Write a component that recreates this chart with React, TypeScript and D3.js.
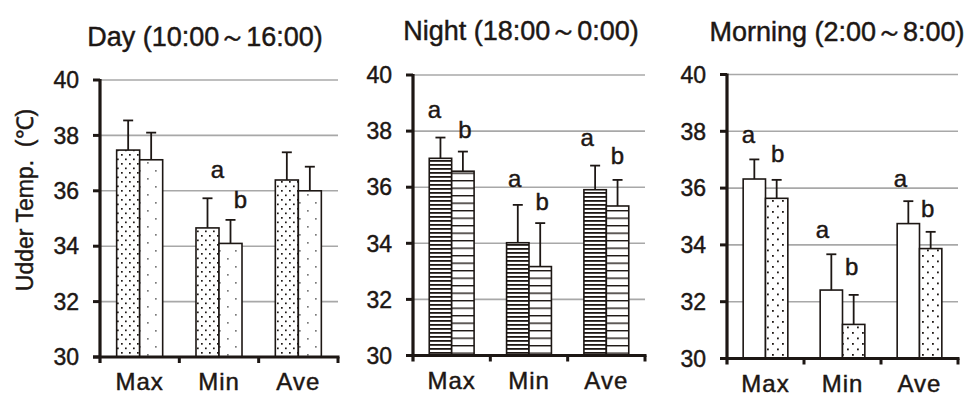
import React from 'react';
import * as d3 from 'd3';

// ---------- data ----------
const categories = ['Max', 'Min', 'Ave'];
const panelTitles = ['Day (10:00～16:00)', 'Night (18:00～0:00)', 'Morning (2:00～8:00)'];
const yTicks = [30, 32, 34, 36, 38, 40];
const yAxisTitle = 'Udder Temp.\u00a0\u00a0(℃)';

const dayMeansA = [37.47, 34.66, 36.39];
const daySdA = [1.07, 1.07, 1.0];
const dayMeansB = [37.12, 34.1, 36.0];
const daySdB = [0.98, 0.85, 0.87];

const nightMeansA = [37.03, 34.02, 35.91];
const nightSdA = [0.74, 1.35, 0.86];
const nightMeansB = [36.57, 33.17, 35.33];
const nightSdB = [0.7, 1.55, 0.93];

const morningMeansA = [36.32, 32.41, 34.75];
const morningSdA = [0.69, 1.26, 0.79];
const morningMeansB = [35.64, 31.2, 33.87];
const morningSdB = [0.65, 1.04, 0.59];

// significance letters: [category index, series index, letter, baseline value (°C)]
const dayLetters: [number, number, string, number][] = [
  [1, 0, 'a', 36.45],
  [1, 1, 'b', 35.39],
];
const nightLetters: [number, number, string, number][] = [
  [0, 0, 'a', 38.46],
  [0, 1, 'b', 37.75],
  [1, 0, 'a', 36.02],
  [1, 1, 'b', 35.19],
  [2, 0, 'a', 37.47],
  [2, 1, 'b', 36.82],
];
const morningLetters: [number, number, string, number][] = [
  [0, 0, 'a', 37.58],
  [0, 1, 'b', 36.93],
  [1, 0, 'a', 34.23],
  [1, 1, 'b', 32.94],
  [2, 0, 'a', 36.05],
  [2, 1, 'b', 34.99],
];

// ---------- layout ----------
const INK = '#1d1714';
const GRID = '#a8a8a8';
const FONT = '"Liberation Sans", Arial, sans-serif';
const TXT = { fontFamily: FONT, fill: INK, stroke: INK, strokeWidth: 0.45 } as const;

interface PanelLayout {
  left: number;
  right: number;
  yTop: number;
  yBottom: number;
  titleX: number;
  titleY: number;
  letterDx: number[];
  fills: [string, string];
}

const layouts: PanelLayout[] = [
  { left: 100, right: 338, yTop: 80, yBottom: 357, titleX: 205, titleY: 46, letterDx: [10, 10], fills: ['url(#dotDense)', 'url(#dotGrey)'] },
  { left: 413, right: 645, yTop: 75, yBottom: 355.5, titleX: 521, titleY: 40, letterDx: [-6, 2, -3, 2, -8, 0], fills: ['url(#lineDense)', 'url(#lineSparse)'] },
  { left: 727, right: 958, yTop: 74.5, yBottom: 358.5, titleX: 837, titleY: 41, letterDx: [-6, 1, -9, -2, -8, -3], fills: ['#ffffff', 'url(#dotMid)'] },
];

const panelData = [
  { means: [dayMeansA, dayMeansB], sds: [daySdA, daySdB], letters: dayLetters },
  { means: [nightMeansA, nightMeansB], sds: [nightSdA, nightSdB], letters: nightLetters },
  { means: [morningMeansA, morningMeansB], sds: [morningSdA, morningSdB], letters: morningLetters },
];

function Panel({ idx }: { idx: number }) {
  const L = layouts[idx];
  const D = panelData[idx];
  const x = d3.scaleBand<string>().domain(categories).range([L.left, L.right]).padding(0);
  const bw = x.bandwidth();
  const xs = d3.scaleBand<number>().domain([0, 1]).range([bw * 0.21, bw * 0.79]).padding(0);
  const y = d3.scaleLinear().domain([30, 40]).range([L.yBottom, L.yTop]);
  const barW = xs.bandwidth();

  return (
    <g>
      <text x={L.titleX} y={L.titleY} textAnchor="middle" fontSize={27} {...TXT}>
        {panelTitles[idx]}
      </text>
      {/* gridlines */}
      {yTicks.filter((t) => t > 30).map((t) => (
        <line key={t} x1={L.left} x2={L.right} y1={y(t)} y2={y(t)} stroke={GRID} strokeWidth={1.6} />
      ))}
      {/* bars */}
      {D.means.map((series, s) =>
        series.map((v, c) => {
          const bx = (x(categories[c]) as number) + (xs(s) as number);
          return (
            <rect key={`b${s}-${c}`} x={bx} y={y(v)} width={barW} height={y(30) - y(v)}
              fill={L.fills[s]} stroke={INK} strokeWidth={1.6} />
          );
        })
      )}
      {/* error bars */}
      {D.means.map((series, s) =>
        series.map((v, c) => {
          const cx = (x(categories[c]) as number) + (xs(s) as number) + barW / 2;
          const top = y(v + D.sds[s][c]);
          return (
            <g key={`e${s}-${c}`} stroke={INK} strokeWidth={1.8}>
              <line x1={cx} x2={cx} y1={y(v)} y2={top} />
              <line x1={cx - 5} x2={cx + 5} y1={top} y2={top} />
            </g>
          );
        })
      )}
      {/* letters */}
      {D.letters.map(([c, s, letter, val], i) => {
        const cx = (x(categories[c]) as number) + (xs(s) as number) + barW / 2 + (L.letterDx[i] || 0);
        return (
          <text key={`l${i}`} x={cx} y={y(val)} textAnchor="middle" fontSize={24} {...TXT}>
            {letter}
          </text>
        );
      })}
      {/* y axis */}
      <line x1={L.left} x2={L.left} y1={L.yTop - 1} y2={L.yBottom + 6} stroke={INK} strokeWidth={3.2} />
      {yTicks.map((t) => (
        <g key={`t${t}`}>
          <line x1={L.left - 7} x2={L.left} y1={y(t)} y2={y(t)} stroke={INK} strokeWidth={3} />
          <text x={L.left - 21} y={y(t)} dy="0.36em" textAnchor="end" fontSize={23} {...TXT}>
            {t}
          </text>
        </g>
      ))}
      {/* x axis */}
      <line x1={L.left - 7} x2={L.right + 1.5} y1={y(30)} y2={y(30)} stroke={INK} strokeWidth={3.2} />
      {categories.map((cat, i) => (
        <line key={`xt${i}`} x1={(x(cat) as number) + bw} x2={(x(cat) as number) + bw}
          y1={y(30)} y2={y(30) + 6} stroke={INK} strokeWidth={3} />
      ))}
      {categories.map((cat) => (
        <text key={`xl${cat}`} x={(x(cat) as number) + bw / 2} y={L.yBottom + 33} textAnchor="middle"
          fontSize={24} letterSpacing={1} {...TXT}>
          {cat}
        </text>
      ))}
    </g>
  );
}

export default function App() {
  return (
    <svg width={971} height={396} style={{ position: 'absolute', left: 0, top: 0, background: '#fff' }}>
      <defs>
        <pattern id="dotDense" patternUnits="userSpaceOnUse" width={8} height={9}>
          <rect width={8} height={9} fill="#fff" />
          <rect x={1} y={1} width={1.7} height={1.7} fill={INK} />
          <rect x={5} y={5.5} width={1.7} height={1.7} fill={INK} />
        </pattern>
        <pattern id="dotGrey" patternUnits="userSpaceOnUse" width={16} height={16}>
          <rect width={16} height={16} fill="#fff" />
          <rect x={3} y={2} width={1.7} height={1.7} fill="#7a7a7a" />
          <rect x={11} y={10} width={1.7} height={1.7} fill="#7a7a7a" />
        </pattern>
        <pattern id="dotMid" patternUnits="userSpaceOnUse" width={10} height={11}>
          <rect width={10} height={11} fill="#fff" />
          <rect x={2} y={2} width={1.8} height={1.8} fill={INK} />
          <rect x={7} y={7.5} width={1.8} height={1.8} fill={INK} />
        </pattern>
        <pattern id="lineDense" patternUnits="userSpaceOnUse" width={10} height={4}>
          <rect width={10} height={4} fill="#fff" />
          <rect x={0} y={0} width={10} height={1.8} fill={INK} />
        </pattern>
        <pattern id="lineSparse" patternUnits="userSpaceOnUse" width={10} height={7.5}>
          <rect width={10} height={7.5} fill="#fff" />
          <rect x={0} y={0} width={10} height={1.4} fill={INK} />
        </pattern>
      </defs>
      <text transform="translate(33,200) rotate(-90)" textAnchor="middle" fontSize={23} {...TXT}>
        {yAxisTitle}
      </text>
      {[0, 1, 2].map((i) => (
        <Panel key={i} idx={i} />
      ))}
    </svg>
  );
}
